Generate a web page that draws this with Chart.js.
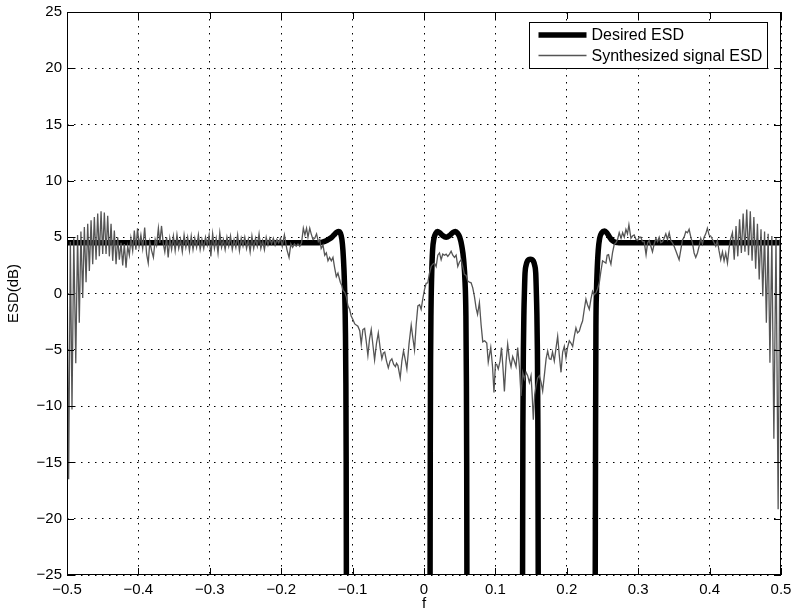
<!DOCTYPE html>
<html>
<head>
<meta charset="utf-8">
<title>ESD</title>
<script src="https://cdn.jsdelivr.net/npm/chart.js@4.4.1/dist/chart.umd.min.js"></script>
<style>
    html, body { margin: 0; padding: 0; background: #fff; }
    #wrap { width: 792px; height: 616px; }
</style>
</head>
<body>
<div id="wrap"><canvas id="esdChart" width="792" height="616"></canvas></div>
<script>
const xTicks = [-0.5, -0.4, -0.3, -0.2, -0.1, 0, 0.1, 0.2, 0.3, 0.4, 0.5];
const yTicks = [-25, -20, -15, -10, -5, 0, 5, 10, 15, 20, 25];
const seriesLabels = ['Desired ESD', 'Synthesized signal ESD'];
const xTitle = 'f';
const yTitle = 'ESD(dB)';

// [f, dB] pairs, null breaks the line where it drops off the bottom
const desiredEsd = [
    [-0.5, 4.5], [-0.15, 4.5], [-0.145, 4.52], [-0.14, 4.6], [-0.135, 4.75], [-0.13, 4.95],
    [-0.126, 5.2], [-0.123, 5.4], [-0.12, 5.5], [-0.117, 5.35], [-0.115, 4.8], [-0.1135, 3.8],
    [-0.112, 2.0], [-0.111, 0], [-0.110, -3.5], [-0.1094, -8], [-0.109, -15], [-0.1087, -26],
    null,
    [0.0085, -26], [0.0088, -14], [0.0092, -6], [0.0098, -1.5], [0.0107, 1.5], [0.0120, 3.8],
    [0.0140, 4.9], [0.0165, 5.35], [0.0190, 5.5], [0.0220, 5.4], [0.0260, 5.15], [0.0310, 5.0],
    [0.0360, 5.15], [0.0400, 5.4], [0.0440, 5.5], [0.0470, 5.35], [0.0500, 5.0], [0.0530, 4.2],
    [0.0555, 3.0], [0.0575, 1.0], [0.0587, -2], [0.0594, -8], [0.0598, -15], [0.0601, -26],
    null,
    [0.1380, -26], [0.1385, -12], [0.1392, -5], [0.1400, -1.5], [0.1406, 0], [0.1415, 1.8],
    [0.1430, 2.5], [0.1450, 2.9], [0.1490, 3.05], [0.1530, 2.9], [0.1550, 2.5], [0.1565, 1.8],
    [0.1574, 0], [0.1580, -1.5], [0.1588, -5], [0.1595, -12], [0.1600, -26],
    null,
    [0.2398, -26], [0.2403, -12], [0.2408, -3], [0.2415, 0], [0.2425, 2.0], [0.2440, 3.8],
    [0.2460, 4.9], [0.2490, 5.4], [0.2530, 5.55], [0.2560, 5.4], [0.2590, 5.1], [0.2630, 4.75],
    [0.2670, 4.58], [0.2710, 4.52], [0.2760, 4.5], [0.5, 4.5]
];

const synthEsd = [
    [-0.5000, 3.5], [-0.4977, -16.5], [-0.4953, 4.6], [-0.4930, -10.3], [-0.4905, 4.9],
    [-0.4877, -6.2], [-0.4852, 5.2], [-0.4828, -2.6], [-0.4805, 5.5], [-0.4780, -0.4],
    [-0.4757, 5.9], [-0.4733, 1.0], [-0.4710, 6.2], [-0.4687, 2.0], [-0.4663, 6.5],
    [-0.4640, 2.6], [-0.4617, 6.8], [-0.4593, 3.0], [-0.4570, 7.1], [-0.4547, 3.3],
    [-0.4523, 7.3], [-0.4500, 3.5], [-0.4477, 7.2], [-0.4453, 3.5], [-0.4430, 6.9],
    [-0.4407, 3.3], [-0.4383, 6.2], [-0.4360, 2.9], [-0.4337, 5.6], [-0.4313, 2.6],
    [-0.4290, 5.0], [-0.4267, 3.0], [-0.4243, 4.5], [-0.4220, 2.5], [-0.4197, 4.4],
    [-0.4173, 2.3], [-0.4150, 4.2], [-0.4127, 3.4], [-0.4105, 4.9], [-0.4080, 3.8],
    [-0.4057, 5.6], [-0.4035, 3.9], [-0.4012, 5.8], [-0.3990, 4.2], [-0.3965, 5.2],
    [-0.3940, 4.0], [-0.3912, 5.85], [-0.3885, 3.5], [-0.3862, 2.7], [-0.3840, 4.6],
    [-0.3815, 3.8], [-0.3790, 3.2], [-0.3765, 4.8], [-0.3745, 4.3], [-0.3720, 5.8],
    [-0.3700, 4.5], [-0.3676, 6.0], [-0.3653, 4.5], [-0.3630, 3.7], [-0.3605, 5.0],
    [-0.3583, 3.2], [-0.3560, 4.9], [-0.3535, 3.9], [-0.3510, 5.1], [-0.3485, 3.8],
    [-0.3460, 5.2], [-0.3435, 4.0], [-0.3410, 4.8], [-0.3385, 3.7], [-0.3360, 5.2],
    [-0.3335, 4.1], [-0.3310, 5.0], [-0.3285, 3.8], [-0.3260, 5.1], [-0.3235, 3.9],
    [-0.3210, 4.9], [-0.3185, 4.1], [-0.3160, 5.2], [-0.3135, 3.9], [-0.3110, 4.8],
    [-0.3085, 4.0], [-0.3060, 5.0], [-0.3035, 4.3], [-0.3010, 5.2], [-0.2985, 3.3],
    [-0.2960, 5.3], [-0.2935, 4.0], [-0.2910, 4.9], [-0.2885, 3.6], [-0.2860, 5.4],
    [-0.2835, 4.1], [-0.2810, 4.8], [-0.2785, 3.9], [-0.2760, 5.0], [-0.2735, 4.2],
    [-0.2710, 5.1], [-0.2685, 3.9], [-0.2660, 4.8], [-0.2635, 4.1], [-0.2610, 5.2],
    [-0.2585, 3.8], [-0.2560, 4.9], [-0.2535, 4.2], [-0.2510, 5.0], [-0.2485, 4.0],
    [-0.2460, 4.8], [-0.2435, 3.7], [-0.2410, 5.1], [-0.2385, 4.0], [-0.2360, 4.9],
    [-0.2335, 4.2], [-0.2310, 5.3], [-0.2285, 4.0], [-0.2260, 4.7], [-0.2235, 3.9],
    [-0.2210, 5.0], [-0.2185, 4.3], [-0.2160, 4.9], [-0.2135, 4.4], [-0.2110, 4.9],
    [-0.2085, 4.3], [-0.2060, 4.8], [-0.2035, 4.5], [-0.2010, 4.9], [-0.1985, 4.2],
    [-0.1955, 5.2], [-0.1920, 3.9], [-0.1890, 3.2], [-0.1865, 4.4], [-0.1840, 4.1],
    [-0.1815, 4.4], [-0.1790, 4.2], [-0.1765, 4.4], [-0.1740, 4.2], [-0.1715, 4.5],
    [-0.1690, 5.8], [-0.1668, 5.2], [-0.1645, 5.8], [-0.1625, 5.0], [-0.1600, 5.8],
    [-0.1580, 5.3], [-0.1555, 4.8], [-0.1530, 4.9], [-0.1505, 5.3], [-0.1480, 4.6],
    [-0.1460, 4.8], [-0.1440, 4.0], [-0.1415, 4.3], [-0.1390, 3.4], [-0.1368, 3.6],
    [-0.1345, 2.9], [-0.1322, 3.2], [-0.1298, 2.9], [-0.1275, 3.2], [-0.1252, 2.3],
    [-0.1228, 1.5], [-0.1205, 1.8], [-0.1172, 1.0], [-0.1150, 0.7], [-0.1135, 0.3],
    [-0.1110, 0.1], [-0.1088, -0.3], [-0.1065, -1.1], [-0.1042, -1.4], [-0.1020, -2.0],
    [-0.0996, -2.3], [-0.0970, -2.7], [-0.0949, -2.8], [-0.0926, -2.9], [-0.0900, -3.3],
    [-0.0879, -4.5], [-0.0856, -3.2], [-0.0832, -3.1], [-0.0810, -4.2], [-0.0786, -5.5],
    [-0.0762, -4.0], [-0.0739, -3.2], [-0.0715, -4.6], [-0.0692, -5.9], [-0.0665, -4.4],
    [-0.0640, -3.5], [-0.0615, -4.8], [-0.0590, -5.8], [-0.0570, -5.3], [-0.0550, -5.2],
    [-0.0525, -6.0], [-0.0500, -6.6], [-0.0475, -6.0], [-0.0450, -5.8], [-0.0425, -6.3],
    [-0.0400, -6.5], [-0.0385, -6.2], [-0.0365, -6.4], [-0.0333, -7.5], [-0.0310, -6.0],
    [-0.0287, -5.1], [-0.0262, -5.9], [-0.0240, -6.7], [-0.0210, -4.5], [-0.0179, -2.8],
    [-0.0155, -4.0], [-0.0133, -5.0], [-0.0110, -2.8], [-0.0086, -1.1], [-0.0062, -1.0],
    [-0.0040, -1.4], [-0.0015, -0.4], [0.0007, 0.35], [0.0030, 0.9], [0.0053, 0.95],
    [0.0077, 1.8], [0.0100, 2.4], [0.0123, 2.6], [0.0147, 2.7], [0.0170, 2.4],
    [0.0193, 3.4], [0.0217, 3.6], [0.0240, 3.0], [0.0263, 3.5], [0.0287, 3.4],
    [0.0310, 3.5], [0.0333, 3.3], [0.0357, 3.5], [0.0380, 3.75], [0.0403, 3.4],
    [0.0427, 3.2], [0.0450, 3.4], [0.0473, 2.4], [0.0497, 2.8], [0.0520, 3.0],
    [0.0543, 2.4], [0.0566, 1.7], [0.0590, 1.6], [0.0613, 1.1], [0.0636, 1.0],
    [0.0660, 0.95], [0.0683, 0.5], [0.0706, -0.25], [0.0730, -1.3], [0.0750, -1.85],
    [0.0776, -0.8], [0.0800, -2.8], [0.0823, -4.3], [0.0850, -4.2], [0.0879, -4.4],
    [0.0900, -6.1], [0.0916, -5.5], [0.0935, -4.8], [0.0960, -6.5], [0.0980, -8.8],
    [0.1000, -6.3], [0.1018, -6.3], [0.1040, -6.7], [0.1065, -6.0], [0.1085, -4.8],
    [0.1105, -6.5], [0.1126, -8.7], [0.1150, -6.0], [0.1172, -4.5], [0.1195, -5.8],
    [0.1219, -6.5], [0.1242, -5.6], [0.1265, -6.0], [0.1289, -6.5], [0.1312, -4.8],
    [0.1336, -6.5], [0.1359, -9.1], [0.1382, -7.0], [0.1406, -7.6], [0.1430, -7.0],
    [0.1452, -7.3], [0.1476, -7.9], [0.1499, -7.3], [0.1515, -9.0], [0.1531, -11.2],
    [0.1550, -9.0], [0.1569, -8.2], [0.1592, -7.5], [0.1615, -7.3], [0.1640, -7.9],
    [0.1662, -8.65], [0.1690, -7.0], [0.1710, -5.8], [0.1732, -5.1], [0.1755, -5.8],
    [0.1779, -5.85], [0.1800, -5.2], [0.1825, -6.0], [0.1850, -4.8], [0.1872, -3.8],
    [0.1895, -5.5], [0.1919, -7.0], [0.1942, -5.2], [0.1965, -4.7], [0.1988, -5.7],
    [0.2010, -4.8], [0.2035, -4.2], [0.2058, -4.4], [0.2082, -4.7], [0.2105, -3.8],
    [0.2128, -3.05], [0.2150, -3.5], [0.2175, -3.35], [0.2200, -2.8], [0.2221, -2.45],
    [0.2245, -1.4], [0.2268, -0.5], [0.2290, -1.0], [0.2315, -1.4], [0.2338, -0.5],
    [0.2361, 0.2], [0.2385, -0.1], [0.2408, 0.05], [0.2430, 0.4], [0.2455, 0.95],
    [0.2478, 2.0], [0.2501, 2.9], [0.2525, 2.8], [0.2548, 2.7], [0.2565, 3.4],
    [0.2585, 3.45], [0.2600, 3.0], [0.2618, 2.6], [0.2640, 3.6], [0.2664, 4.35],
    [0.2688, 4.5], [0.2711, 4.8], [0.2734, 5.4], [0.2760, 4.9], [0.2782, 5.4],
    [0.2805, 5.0], [0.2828, 5.7], [0.2850, 5.3], [0.2870, 6.1], [0.2898, 4.9],
    [0.2920, 5.1], [0.2944, 5.2], [0.2968, 4.8], [0.2991, 4.7], [0.3014, 5.0],
    [0.3037, 5.0], [0.3060, 4.6], [0.3084, 4.6], [0.3110, 3.45], [0.3132, 4.5],
    [0.3154, 4.7], [0.3177, 4.2], [0.3200, 3.7], [0.3224, 4.4], [0.3248, 4.9],
    [0.3271, 4.6], [0.3294, 5.0], [0.3317, 4.5], [0.3340, 4.6], [0.3363, 4.9],
    [0.3387, 5.3], [0.3410, 4.8], [0.3434, 5.4], [0.3457, 4.7], [0.3480, 4.5],
    [0.3503, 4.2], [0.3527, 3.8], [0.3550, 3.4], [0.3573, 3.0], [0.3597, 3.9],
    [0.3620, 4.75], [0.3643, 5.0], [0.3667, 5.5], [0.3690, 5.4], [0.3713, 5.7],
    [0.3737, 5.0], [0.3760, 4.5], [0.3783, 3.6], [0.3806, 3.2], [0.3830, 3.6],
    [0.3853, 4.2], [0.3876, 4.9], [0.3900, 4.4], [0.3923, 5.0], [0.3946, 5.3],
    [0.3969, 5.8], [0.3992, 5.2], [0.4016, 5.1], [0.4040, 4.8], [0.4063, 4.5],
    [0.4086, 4.2], [0.4109, 4.7], [0.4132, 3.8], [0.4156, 3.0], [0.4180, 3.7],
    [0.4203, 2.9], [0.4226, 3.6], [0.4250, 2.7], [0.4272, 4.0], [0.4296, 4.9],
    [0.4320, 5.4], [0.4345, 3.0], [0.4370, 6.0], [0.4395, 3.3], [0.4420, 6.6],
    [0.4445, 3.6], [0.4470, 7.1], [0.4495, 3.7], [0.4520, 7.45], [0.4545, 3.4],
    [0.4570, 7.3], [0.4595, 2.9], [0.4620, 6.8], [0.4645, 2.2], [0.4670, 6.2],
    [0.4695, 1.25], [0.4720, 5.7], [0.4745, -0.25], [0.4770, 5.5], [0.4795, -2.6],
    [0.4820, 5.3], [0.4845, -6.15], [0.4872, 5.1], [0.4900, -12.9], [0.4930, 5.0],
    [0.4960, -19.15], [0.4985, 4.8], [0.5000, 4.0]
];

const toPoints = rows => rows.map(r => r ? { x: r[0], y: r[1] } : { x: null, y: null });

function minusSign(v) {
    return v < 0 ? '\u2212' + Math.abs(v) : String(v);
}

// box, inward tick marks and legend, drawn in the MATLAB way
const matlabAxes = {
    id: 'matlabAxes',
    afterDatasetsDraw(chart) {
        const { ctx, chartArea: a, scales } = chart;
        const tick = 7;
        ctx.save();
        ctx.strokeStyle = '#000';
        ctx.lineWidth = 1;
        ctx.setLineDash([]);
        ctx.beginPath();
        xTicks.forEach(v => {
            const px = Math.round(scales.x.getPixelForValue(v)) + 0.5;
            ctx.moveTo(px, a.top); ctx.lineTo(px, a.top + tick);
            ctx.moveTo(px, a.bottom); ctx.lineTo(px, a.bottom - tick);
        });
        yTicks.forEach(v => {
            const py = Math.round(scales.y.getPixelForValue(v)) + 0.5;
            ctx.moveTo(a.left, py); ctx.lineTo(a.left + tick, py);
            ctx.moveTo(a.right, py); ctx.lineTo(a.right - tick, py);
        });
        ctx.stroke();
        ctx.strokeRect(Math.round(a.left) + 0.5, Math.round(a.top) + 0.5,
            Math.round(a.right - a.left) - 1, Math.round(a.bottom - a.top) - 1);

        // legend box in the upper right corner
        const w = 238, h = 46;
        const lx = Math.round(a.right - 14 - w) + 0.5;
        const ly = Math.round(a.top + 10) + 0.5;
        ctx.fillStyle = '#fff';
        ctx.fillRect(lx, ly, w, h);
        ctx.strokeRect(lx, ly, w, h);
        const sets = chart.data.datasets;
        ctx.font = '16px "Liberation Sans", Arial, sans-serif';
        ctx.textBaseline = 'middle';
        ctx.textAlign = 'left';
        sets.forEach((ds, i) => {
            const y = ly + 12.5 + i * 20.5;
            ctx.beginPath();
            ctx.strokeStyle = ds.borderColor;
            ctx.lineWidth = ds.borderWidth;
            ctx.lineCap = 'butt';
            ctx.moveTo(lx + 9, y);
            ctx.lineTo(lx + 57, y);
            ctx.stroke();
            ctx.fillStyle = '#000';
            ctx.fillText(ds.label, lx + 62, y + 1);
        });
        ctx.restore();
    }
};

Chart.defaults.font.family = '"Liberation Sans", Arial, sans-serif';
Chart.defaults.font.size = 15;
Chart.defaults.color = '#000';

const gridStyle = {
    color: '#000',
    lineWidth: 1,
    drawTicks: false
};

new Chart(document.getElementById('esdChart'), {
    type: 'line',
    data: {
        datasets: [
            {
                label: seriesLabels[0],
                data: toPoints(desiredEsd),
                borderColor: '#000',
                borderWidth: 5.5,
                pointRadius: 0,
                cubicInterpolationMode: 'monotone',
                spanGaps: false,
                borderCapStyle: 'butt',
                borderJoinStyle: 'round',
                clip: 0,
                order: 2
            },
            {
                label: seriesLabels[1],
                data: toPoints(synthEsd),
                borderColor: '#555',
                borderWidth: 1.3,
                pointRadius: 0,
                tension: 0,
                clip: 0,
                order: 1
            }
        ]
    },
    options: {
        responsive: false,
        animation: false,
        devicePixelRatio: 1,
        layout: { padding: { top: 12, right: 11, left: 0, bottom: 0 } },
        plugins: {
            legend: { display: false },
            tooltip: { enabled: false }
        },
        scales: {
            x: {
                type: 'linear',
                min: -0.5,
                max: 0.5,
                afterBuildTicks: s => { s.ticks = xTicks.map(v => ({ value: v })); },
                afterFit: s => {
                    s.height = 41;
                    s.paddingLeft = 0;
                    s.paddingRight = 0;
                },
                ticks: {
                    padding: 6,
                    maxRotation: 0,
                    autoSkip: false,
                    callback: v => v === 0 ? '0' : (v < 0 ? '\u2212' : '') + Math.abs(v).toFixed(1)
                },
                grid: gridStyle,
                border: { display: false, dash: [1.5, 5.5] },
                title: { display: true, text: xTitle, padding: { top: 0, bottom: 3 } }
            },
            y: {
                min: -25,
                max: 25,
                afterBuildTicks: s => { s.ticks = yTicks.map(v => ({ value: v })); },
                afterFit: s => {
                    s.width = 67;
                    s.paddingTop = 0;
                    s.paddingBottom = 0;
                },
                ticks: {
                    padding: 5,
                    autoSkip: false,
                    callback: v => minusSign(v)
                },
                grid: gridStyle,
                border: { display: false, dash: [1.5, 5.5] },
                title: { display: true, text: yTitle, padding: { top: 5, bottom: 0 } }
            }
        }
    },
    plugins: [matlabAxes]
});
</script>
</body>
</html>
